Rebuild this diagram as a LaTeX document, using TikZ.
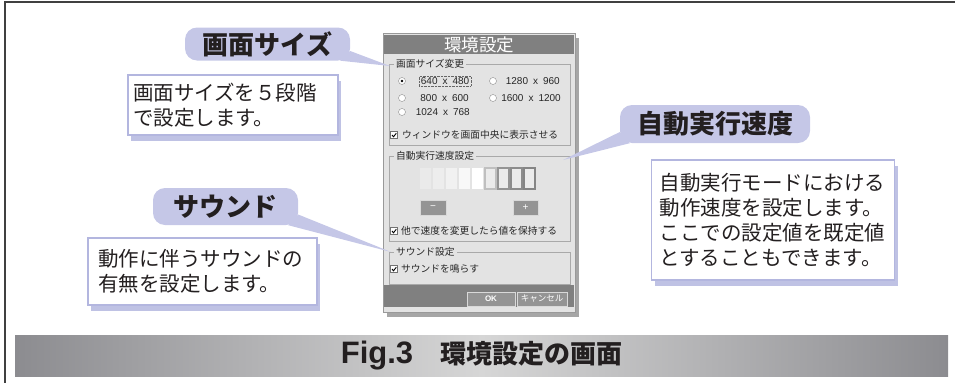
\documentclass[tikz,border=0pt]{standalone}
\usepackage{fontspec}
\setmainfont{Noto Sans CJK JP}
\newfontfamily\latinfont{Liberation Sans}
\usetikzlibrary{calc,shadows}

\definecolor{ink}{HTML}{231F20}
\definecolor{bubble}{HTML}{C5C7E7}
\definecolor{boxline}{HTML}{B3B6DF}
\definecolor{boxshade}{HTML}{A4A8D8}
\definecolor{dlgbg}{HTML}{E3E3E3}
\definecolor{dlgbar}{HTML}{808080}
\definecolor{grpline}{HTML}{A9A9A9}
\definecolor{capdark}{HTML}{8C8C90}
\definecolor{caplight}{HTML}{D6D6D6}

\newcommand\dimsep{\hspace{5pt}x\hspace{5pt}}

\begin{document}
\begin{tikzpicture}[x=1pt,y=-1pt,
  bub/.style={fill=bubble,rounded corners=12pt,inner sep=0pt,text=ink,font=\fontsize{26}{30}\selectfont\bfseries},
  desc/.style={draw=boxline,line width=1.2pt,fill=white,text=ink,align=left,inner sep=0pt,
    font=\fontsize{20.5}{25}\selectfont,
    drop shadow={shadow xshift=3pt,shadow yshift=-6pt,fill=boxshade,opacity=.7}},
  tail/.style={fill=bubble},
  dtxt/.style={inner sep=0pt,text=black!85,font=\fontsize{9.75}{11}\selectfont},
  dnum/.style={inner sep=0pt,text=black!85,font=\latinfont\fontsize{10}{11}\selectfont},
  grp/.style={draw=grpline,inner sep=0pt},
  glbl/.style={dtxt,fill=dlgbg,inner xsep=2pt},
  radio/.style={circle,draw=black!45,fill=white,minimum size=7pt,inner sep=0pt},
  radiox/.style={radio,path picture={\fill[black] (path picture bounding box.center) circle (1.4pt);}},
  chk/.style={draw=black!55,fill=white,minimum size=7pt,inner sep=0pt,
    path picture={\draw[black,line width=.9pt] ($(path picture bounding box.center)+(-2,0)$) -- ++(1.5,1.8) -- ++(2.8,-3.6);}},
  blk/.style={minimum width=11,minimum height=21,inner sep=0pt},
  btn/.style={fill=black!42,draw=white!85!black,inner sep=0pt,text=white},
]
\useasboundingbox (0,0) rectangle (955,383);

% frame
\draw[line width=2pt,black!75] (4,2) -- (955,2);
\draw[line width=1.5pt,black!75] (5,1) -- (5,383);

% caption
\node[minimum width=933,minimum height=41,inner sep=0pt,left color=capdark,right color=capdark,middle color=caplight,text=ink] (cap) at (481.5,355.5)
  {{\latinfont\fontsize{31}{31}\selectfont\bfseries Fig.3}\hspace{27pt}{\fontsize{26}{28}\selectfont\bfseries 環境設定の画面}};

% dialog
\node[fill=dlgbg,draw=black!40,minimum width=192,minimum height=279,inner sep=0pt,anchor=north west,
  drop shadow={shadow xshift=4pt,shadow yshift=-5pt,fill=black,opacity=.35}] (dlg) at (383,33) {};
\node[fill=dlgbar,minimum width=190,minimum height=19,inner sep=0pt,anchor=north west,text=white,
  font=\fontsize{17.5}{20}\selectfont] (ttl) at (384,35) {環境設定};
\node[fill=dlgbar,minimum width=190,minimum height=22,inner sep=0pt,anchor=north west] (foot) at (384,285) {};
\node[btn,minimum width=48,minimum height=14,font=\latinfont\fontsize{8}{9}\selectfont\bfseries] (ok) at (491,299) {OK};
\node[btn,minimum width=50,minimum height=14,font=\fontsize{8.5}{9}\selectfont] (cancel) at (542,299) {キャンセル};

\node[grp,minimum width=181,minimum height=81,anchor=north west] (g1) at (389,64) {};
\node[glbl,anchor=west] (g1l) at (394,64) {画面サイズ変更};
\node[grp,minimum width=181,minimum height=85,anchor=north west] (g2) at (389,156) {};
\node[glbl,anchor=west] (g2l) at (394,156) {自動実行速度設定};
\node[grp,minimum width=181,minimum height=32,anchor=north west] (g3) at (389,252) {};
\node[glbl,anchor=west] (g3l) at (394,252) {サウンド設定};

\node[radiox] (r1) at (402,81) {};
\node[dnum,anchor=east,draw=black!60,densely dotted,inner sep=1.5pt] (r1t) at (471,81) {640\dimsep 480};
\node[radio] (r2) at (493,81) {};
\node[dnum,anchor=east] (r2t) at (560,81) {1280\dimsep 960};
\node[radio] (r3) at (402,98) {};
\node[dnum,anchor=east] (r3t) at (469,98) {800\dimsep 600};
\node[radio] (r4) at (493,98) {};
\node[dnum,anchor=east] (r4t) at (561,98) {1600\dimsep 1200};
\node[radio] (r5) at (402,112) {};
\node[dnum,anchor=east] (r5t) at (470,112) {1024\dimsep 768};

\node[chk] (c1) at (394,135) {};
\node[dtxt,anchor=west] (c1t) at (402,135) {ウィンドウを画面中央に表示させる};

\foreach \i/\p in {0/25,1/35,2/50,3/75,4/100} {
\node[blk,fill=white!\p!dlgbg] (s\i) at (425.5+13*\i,178.5) {};
}
\foreach \i/\d in {5/25,6/42,7/45,8/48} {
\node[blk,fill=black!8,draw=black!\d,line width=1.6pt] (s\i) at (425.5+13*\i,178.5) {};
}
\node[btn,minimum width=26,minimum height=15,font=\latinfont\fontsize{10}{10}\selectfont] (minus) at (433,207.5) {−};
\node[btn,minimum width=25,minimum height=15,font=\latinfont\fontsize{10}{10}\selectfont] (plus) at (525.5,207.5) {+};
\node[chk] (c2) at (394,231) {};
\node[dtxt,anchor=west] (c2t) at (401,231) {他で速度を変更したら値を保持する};

\node[chk] (c3) at (394,269) {};
\node[dtxt,anchor=west] (c3t) at (401,269) {サウンドを鳴らす};

% descriptions
\node[desc,minimum width=210,minimum height=60,text width=200,inner xsep=5] (d1) at (233,105)
  {画面サイズを５段階\\で設定します。};
\node[desc,minimum width=243,minimum height=120,text width=227,inner xsep=8] (d2) at (773,220)
  {自動実行モードにおける\\動作速度を設定します。\\ここでの設定値を既定値\\とすることもできます。};
\node[desc,minimum width=229,minimum height=67,text width=209,inner xsep=10] (d3) at (202.5,271.5)
  {動作に伴うサウンドの\\有無を設定します。};

% bubbles
\node[bub,minimum width=165,minimum height=33] (b1) at (267.5,44) {画面サイズ};
\node[bub,minimum width=190,minimum height=38] (b2) at (715,124) {自動実行速度};
\node[bub,minimum width=145,minimum height=37] (b3) at (225.5,206.5) {サウンド};

\coordinate (p1) at (390,66);
\coordinate (p2) at (563,160);
\coordinate (p3) at (391,252);
\fill[tail] ($(b1.south east)+(-10,0)$) -- (p1) -- ($(b1.east)+(0,7)$) -- cycle;
\fill[tail] ($(b2.south west)+(10,0)$) -- (p2) -- ($(b2.west)+(0,8)$) -- cycle;
\fill[tail] ($(b3.south east)+(-10,0)$) -- (p3) -- ($(b3.east)+(0,8)$) -- cycle;

\end{tikzpicture}
\end{document}
